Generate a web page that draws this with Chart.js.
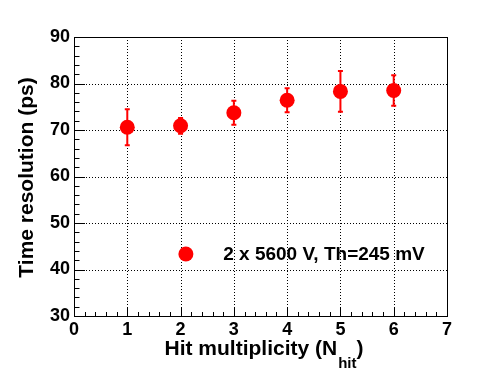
<!DOCTYPE html>
<html>
<head>
<meta charset="utf-8">
<script src="https://cdn.jsdelivr.net/npm/chart.js@4"></script>
<style>
  body { margin: 0; background: #fff; }
  canvas { display: block; }
</style>
</head>
<body>
<canvas id="chart" width="496" height="372"></canvas>
<script>
// hit multiplicity vs time resolution
const multiplicity = [1, 2, 3, 4, 5, 6];
const resolution = [70.6, 70.9, 73.7, 76.4, 78.3, 78.5];
const resolutionErr = [4.1, 1.9, 2.8, 2.8, 4.6, 3.5];

const seriesLabel = '2 x 5600 V, Th=245 mV';
const xTitle = 'Hit multiplicity (N';
const xTitleSub = 'hit';
const yTitle = 'Time resolution (ps)';

const FONT = '"Liberation Sans", Arial, Helvetica, sans-serif';
const red = '#ff0000';

// ROOT style frame: dotted grid, inner ticks on left/bottom
const framePlugin = {
    id: 'frame',
    beforeDatasetsDraw(chart) {
        const { ctx, chartArea: a, scales: { x, y } } = chart;
        ctx.save();
        ctx.strokeStyle = '#000';
        ctx.lineWidth = 1;

        ctx.setLineDash([1, 2]);
        ctx.beginPath();
        for (let v = x.min + 1; v < x.max; v++) {
            const px = Math.round(x.getPixelForValue(v)) + 0.5;
            ctx.moveTo(px, a.top);
            ctx.lineTo(px, a.bottom);
        }
        for (let v = y.min + 10; v < y.max; v += 10) {
            const py = Math.round(y.getPixelForValue(v)) + 0.5;
            ctx.moveTo(a.left, py);
            ctx.lineTo(a.right, py);
        }
        ctx.stroke();
        ctx.setLineDash([]);

        ctx.beginPath();
        for (let i = 0; i <= 35; i++) {
            const px = Math.round(x.getPixelForValue(i * 0.2)) + 0.5;
            const len = i % 5 === 0 ? 8 : 4;
            ctx.moveTo(px, a.bottom);
            ctx.lineTo(px, a.bottom - len);
        }
        for (let i = 0; i <= 30; i++) {
            const py = Math.round(y.getPixelForValue(30 + i * 2)) + 0.5;
            const len = i % 5 === 0 ? 11 : 5.5;
            ctx.moveTo(a.left, py);
            ctx.lineTo(a.left + len, py);
        }
        ctx.stroke();

        ctx.strokeRect(Math.round(a.left) + 0.5, Math.round(a.top) + 0.5,
            Math.round(a.right - a.left), Math.round(a.bottom - a.top));

        // error bars
        ctx.strokeStyle = red;
        ctx.lineWidth = 2;
        multiplicity.forEach((m, i) => {
            const px = x.getPixelForValue(m);
            const top = y.getPixelForValue(resolution[i] + resolutionErr[i]);
            const bot = y.getPixelForValue(resolution[i] - resolutionErr[i]);
            ctx.beginPath();
            ctx.moveTo(px, top);
            ctx.lineTo(px, bot);
            ctx.moveTo(px - 2.5, top + 1);
            ctx.lineTo(px + 2.5, top + 1);
            ctx.moveTo(px - 2.5, bot - 1);
            ctx.lineTo(px + 2.5, bot - 1);
            ctx.stroke();
        });
        ctx.restore();
    },
    afterDraw(chart) {
        const { ctx, chartArea: a } = chart;
        ctx.save();
        ctx.fillStyle = '#000';

        // y title
        ctx.font = 'bold 21px ' + FONT;
        ctx.textAlign = 'center';
        ctx.textBaseline = 'middle';
        ctx.translate(27, (a.top + a.bottom) / 2 + 1);
        ctx.rotate(-Math.PI / 2);
        ctx.fillText(yTitle, 0, 0);
        ctx.setTransform(1, 0, 0, 1, 0, 0);

        // x title with subscript
        ctx.textAlign = 'left';
        ctx.textBaseline = 'alphabetic';
        ctx.font = 'bold 21px ' + FONT;
        const w1 = ctx.measureText(xTitle).width;
        const w3 = ctx.measureText(')').width;
        ctx.font = 'bold 15px ' + FONT;
        const w2 = ctx.measureText(xTitleSub).width;
        let tx = (a.left + a.right) / 2 + 3 - (w1 + w2 + w3) / 2;
        const base = 355;
        ctx.font = 'bold 21px ' + FONT;
        ctx.fillText(xTitle, tx, base);
        ctx.font = 'bold 15px ' + FONT;
        ctx.fillText(xTitleSub, tx + w1 + 1, base + 13);
        ctx.font = 'bold 21px ' + FONT;
        ctx.fillText(')', tx + w1 + w2 + 1, base);

        // legend
        const lx = a.left + 0.3 * (a.right - a.left);
        const ly = a.top + 0.778 * (a.bottom - a.top);
        ctx.fillStyle = red;
        ctx.beginPath();
        ctx.arc(lx, ly, 7.5, 0, Math.PI * 2);
        ctx.fill();
        ctx.fillStyle = '#000';
        ctx.font = 'bold 19px ' + FONT;
        ctx.textBaseline = 'middle';
        ctx.fillText(seriesLabel, a.left + 0.4 * (a.right - a.left), ly + 1);
        ctx.restore();
    }
};

new Chart(document.getElementById('chart'), {
    type: 'scatter',
    data: {
        datasets: [{
            label: seriesLabel,
            data: multiplicity.map((m, i) => ({ x: m, y: resolution[i] })),
            pointRadius: 7.5,
            pointBackgroundColor: red,
            pointBorderColor: red,
            pointBorderWidth: 0,
            showLine: false
        }]
    },
    options: {
        responsive: false,
        animation: false,
        layout: { autoPadding: false, padding: { left: 0, right: 49, top: 37, bottom: 0 } },
        plugins: { legend: { display: false }, tooltip: { enabled: false } },
        scales: {
            x: {
                type: 'linear',
                min: 0,
                max: 7,
                afterFit: s => { s.height = 56; },
                ticks: { stepSize: 1, color: '#000', padding: 3, font: { family: FONT, size: 18, weight: 'bold' } },
                grid: { display: false, drawTicks: false },
                border: { display: false }
            },
            y: {
                min: 30,
                max: 90,
                afterFit: s => { s.width = 74; },
                ticks: { stepSize: 10, color: '#000', padding: 4, font: { family: FONT, size: 18, weight: 'bold' } },
                grid: { display: false, drawTicks: false },
                border: { display: false }
            }
        }
    },
    plugins: [framePlugin]
});
</script>
</body>
</html>
